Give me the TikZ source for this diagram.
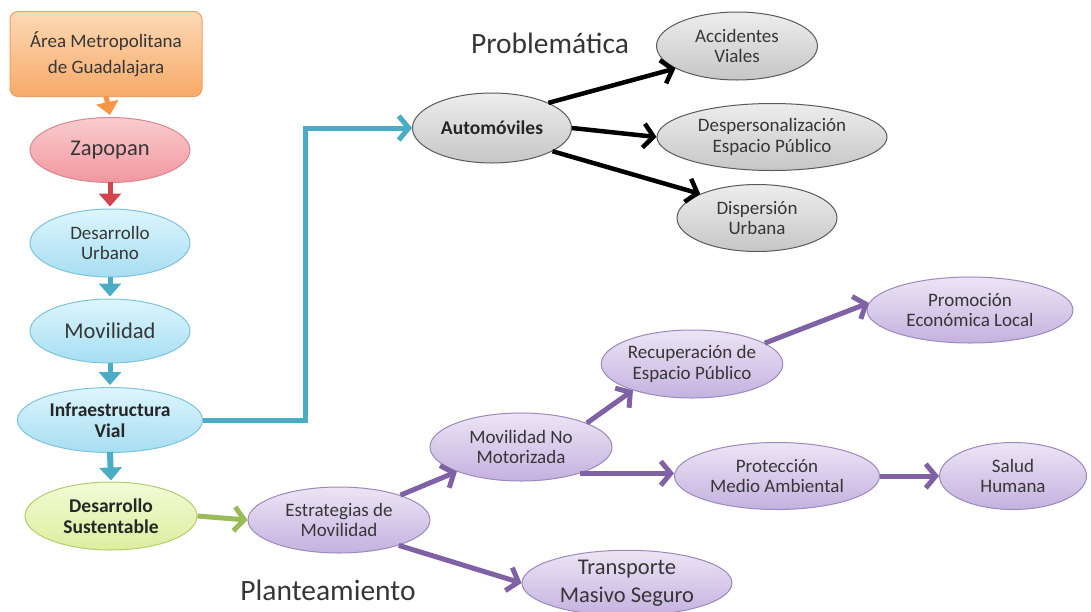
\documentclass[tikz,border=0pt]{standalone}
\usepackage{fontspec}
\setmainfont{Carlito}
\usetikzlibrary{shapes.geometric,arrows.meta,calc}
\definecolor{txt}{HTML}{363636}
\definecolor{orTop}{HTML}{FCD9B6}
\definecolor{orBot}{HTML}{F7AA68}
\definecolor{orLine}{HTML}{EFA062}
\definecolor{orArrow}{HTML}{F79646}
\definecolor{pkTop}{HTML}{F9CCCF}
\definecolor{pkBot}{HTML}{F2979F}
\definecolor{pkLine}{HTML}{D98790}
\definecolor{rdArrow}{HTML}{D2434F}
\definecolor{blTop}{HTML}{DDF5FD}
\definecolor{blBot}{HTML}{A6DEF2}
\definecolor{blLine}{HTML}{7EC3DC}
\definecolor{blArrow}{HTML}{4BACC6}
\definecolor{gnTop}{HTML}{F3FAD6}
\definecolor{gnBot}{HTML}{DCEE9E}
\definecolor{gnLine}{HTML}{B3CE6E}
\definecolor{gnArrow}{HTML}{9BBB59}
\definecolor{puTop}{HTML}{ECE5F5}
\definecolor{puBot}{HTML}{C4B1DF}
\definecolor{puLine}{HTML}{9C89BE}
\definecolor{puArrow}{HTML}{7F62A5}
\definecolor{gyTop}{HTML}{EDEDED}
\definecolor{gyBot}{HTML}{C6C6C6}
\definecolor{gyLine}{HTML}{5A5A5A}
\begin{document}
\begin{tikzpicture}[x=1pt,y=-1pt,
  base/.style={ellipse, draw, line width=1pt, inner sep=0pt, align=center, text=txt,
    font=\fontsize{19}{20.5}\selectfont},
  pinknode/.style={base, draw=pkLine, top color=pkTop, bottom color=pkBot},
  bluenode/.style={base, draw=blLine, top color=blTop, bottom color=blBot},
  greennode/.style={base, draw=gnLine, top color=gnTop, bottom color=gnBot},
  purplenode/.style={base, draw=puLine, top color=puTop, bottom color=puBot},
  graynode/.style={base, draw=gyLine, top color=gyTop, bottom color=gyBot},
  bignum/.style={font=\fontsize{22.5}{24}\selectfont},
  boldtxt/.style={font=\fontsize{19.5}{21}\selectfont\bfseries, text=black!85},
  title/.style={font=\fontsize{29.5}{31}\selectfont, text=txt},
  chain/.style={line width=6pt, -{Triangle[length=13pt,width=22pt]}},
  barb/.style={line width=5pt, -{Straight Barb[length=10pt,width=24pt]}},
  blackbarb/.style={line width=4.5pt, draw=black, -{Straight Barb[length=10pt,width=24pt]}}
]
\useasboundingbox[fill=white] (0,0) rectangle (1091,611);

% left column
\node[draw=orLine, line width=1pt, top color=orTop, bottom color=orBot, rounded corners=8pt,
  minimum width=192pt, minimum height=85pt, inner sep=0pt, align=center, text=txt,
  font=\fontsize{19}{26}\selectfont] (amg) at (106,54) {Área Metropolitana\\de Guadalajara};
\node[pinknode, bignum, minimum width=160pt, minimum height=65pt] (zap) at (110,150) {Zapopan};
\node[bluenode, minimum width=160pt, minimum height=68pt] (du) at (110,243) {Desarrollo\\Urbano};
\node[bluenode, bignum, minimum width=160pt, minimum height=64pt] (mov) at (110,331) {Movilidad};
\node[bluenode, boldtxt, minimum width=185pt, minimum height=65pt] (iv) at (110,420) {Infraestructura\\Vial};
\node[greennode, boldtxt, minimum width=172pt, minimum height=68pt] (ds) at (111,516) {Desarrollo\\Sustentable};

% problematica
\node[graynode, boldtxt, minimum width=159pt, minimum height=70pt] (auto) at (492,128) {Automóviles};
\node[graynode, minimum width=161pt, minimum height=68pt] (acc) at (737,46) {Accidentes\\Viales};
\node[graynode, minimum width=230pt, minimum height=67pt] (desp) at (772,137) {Despersonalización\\Espacio Público};
\node[graynode, minimum width=160pt, minimum height=67pt] (disp) at (757,218) {Dispersión\\Urbana};
\node[title] (prob) at (550,43) {Problemática};

% planteamiento
\node[purplenode, minimum width=182pt, minimum height=66pt] (est) at (339,520) {Estrategias de\\Movilidad};
\node[purplenode, minimum width=182pt, minimum height=68pt] (mnm) at (521,447) {Movilidad No\\Motorizada};
\node[purplenode, font=\fontsize{22.5}{28}\selectfont, minimum width=210pt, minimum height=62pt] (tms) at (627,583) {Transporte\\Masivo Seguro};
\node[purplenode, minimum width=180pt, minimum height=68pt] (rec) at (692,364) {Recuperación de\\Espacio Público};
\node[purplenode, minimum width=206pt, minimum height=66pt] (prom) at (970,310) {Promoción\\Económica Local};
\node[purplenode, minimum width=205pt, minimum height=67pt] (prot) at (777,476) {Protección\\Medio Ambiental};
\node[purplenode, minimum width=147pt, minimum height=67pt] (sal) at (1013,476) {Salud\\Humana};
\node[title] (plan) at (328,590) {Planteamiento};

% vertical chain
\draw[chain, draw=orArrow, fill=orArrow, line width=5pt] ([yshift=1pt]amg.south) -- ([yshift=2pt]zap.north);
\draw[chain, draw=rdArrow, fill=rdArrow, line width=5pt] ([yshift=1pt]zap.south) -- ([yshift=2pt]du.north);
\draw[chain, draw=blArrow, fill=blArrow, line width=5pt] ([yshift=1pt]du.south) -- ([yshift=2pt]mov.north);
\draw[chain, draw=blArrow, fill=blArrow, line width=5pt] ([yshift=1pt]mov.south) -- ([yshift=2pt]iv.north);
\draw[chain, draw=blArrow, fill=blArrow] ([yshift=1pt]iv.south) -- ([yshift=1pt]ds.north);

% connectors
\draw[barb, draw=gnArrow] (ds.east) -- (est.west);
\draw[barb, draw=blArrow] (iv.east) -- (305,420) |- (auto.west);
\draw[blackbarb] (auto.24) -- (acc.200);
\draw[blackbarb] (auto.east) -- (desp.west);
\draw[blackbarb] (auto.-21) -- (disp.157);
\draw[barb, draw=puArrow] (est.22) -- (mnm.201);
\draw[barb, draw=puArrow] (est.-23) -- (tms.west);
\draw[barb, draw=puArrow] (mnm.20) -- (rec.204);
\draw[barb, draw=puArrow] (mnm.-24) -- (mnm.-24 -| prot.west);
\draw[barb, draw=puArrow] (rec.16) -- (prom.176);
\draw[barb, draw=puArrow] (prot.east) -- (sal.west);
\end{tikzpicture}
\end{document}
